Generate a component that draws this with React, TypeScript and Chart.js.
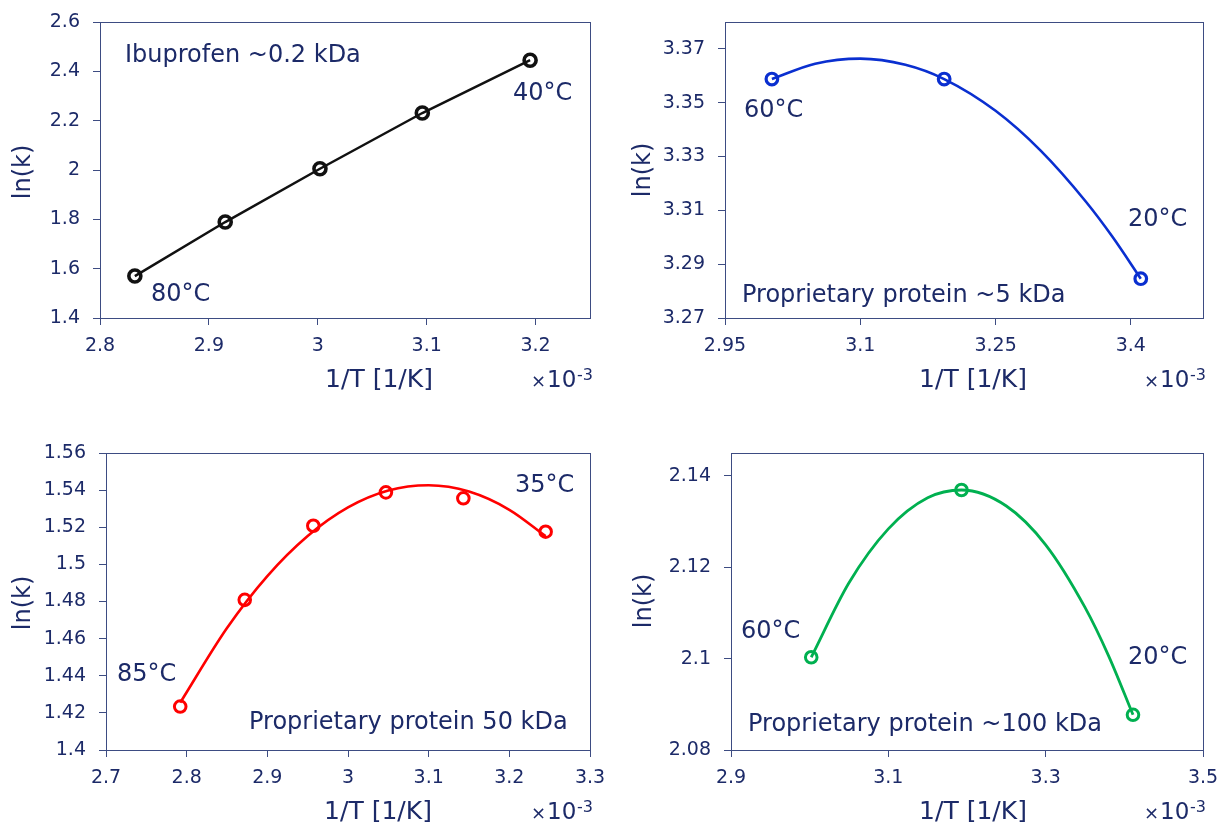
import React, { useEffect, useRef } from 'react';
import { Chart, registerables } from 'chart.js';

Chart.register(...registerables);

const FONT = "'DejaVu Sans', Verdana, sans-serif";
const TEXT_COLOR = '#1c2a68';
const FRAME_COLOR = '#3d4c82';

// ---------- Panel A: Ibuprofen ~0.2 kDa (1/T in 1e-3 1/K) ----------
const IBU_X = [2.832, 2.915, 3.002, 3.096, 3.195];
const IBU_LNK = [1.57, 1.789, 2.005, 2.231, 2.445];
const IBU_X_TICKS = ['2.8', '2.9', '3', '3.1', '3.2'];
const IBU_Y_TICKS = ['1.4', '1.6', '1.8', '2', '2.2', '2.4', '2.6'];

// ---------- Panel B: Proprietary protein ~5 kDa ----------
const P5_X = [3.002, 3.193, 3.411];
const P5_LNK = [3.3588, 3.3588, 3.2846];
const P5_FIT_X = [3.002, 3.05, 3.1, 3.15, 3.193, 3.25, 3.3, 3.35, 3.38, 3.411];
const P5_FIT_LNK = [3.3588, 3.3645, 3.3664, 3.3641, 3.3588, 3.347, 3.3322, 3.3133, 3.3, 3.2846];
const P5_X_TICKS = ['2.95', '3.1', '3.25', '3.4'];
const P5_Y_TICKS = ['3.27', '3.29', '3.31', '3.33', '3.35', '3.37'];

// ---------- Panel C: Proprietary protein 50 kDa ----------
const P50_X = [2.792, 2.872, 2.957, 3.047, 3.143, 3.245];
const P50_LNK = [1.4234, 1.4809, 1.5208, 1.5388, 1.5356, 1.5176];
const P50_FIT_X = [2.792, 2.85, 2.9, 2.95, 3.0, 3.05, 3.1, 3.15, 3.2, 3.245];
const P50_FIT_LNK = [1.4255, 1.4657, 1.4937, 1.5153, 1.5307, 1.5398, 1.5426, 1.5392, 1.5294, 1.5152];
const P50_X_TICKS = ['2.7', '2.8', '2.9', '3', '3.1', '3.2', '3.3'];
const P50_Y_TICKS = ['1.4', '1.42', '1.44', '1.46', '1.48', '1.5', '1.52', '1.54', '1.56'];

// ---------- Panel D: Proprietary protein ~100 kDa ----------
const P100_X = [3.002, 3.193, 3.411];
const P100_LNK = [2.1003, 2.1369, 2.0877];
const P100_FIT_X = [3.002, 3.05, 3.1, 3.15, 3.193, 3.25, 3.3, 3.35, 3.38, 3.411];
const P100_FIT_LNK = [2.1003, 2.1166, 2.1284, 2.1352, 2.1369, 2.1334, 2.1249, 2.1112, 2.1006, 2.0877];
const P100_X_TICKS = ['2.9', '3.1', '3.3', '3.5'];
const P100_Y_TICKS = ['2.08', '2.1', '2.12', '2.14'];

const X_TITLE = '1/T [1/K]';
const Y_TITLE = 'ln(k)';

const Y_AXIS_W = 70;
const X_AXIS_H = 40;

type Note = { text: string; x: number; y: number };
type Panel = {
  canvas: { left: number; top: number; width: number; height: number };
  box: { l: number; t: number; r: number; b: number };
  xr: [number, number];
  yr: [number, number];
  xTicks: string[];
  yTicks: string[];
  px: number[];
  py: number[];
  fx: number[] | null;
  fy: number[] | null;
  connect: boolean;
  color: string;
  lineWidth: number;
  pointRadius: number;
  pointBorder: number;
  notes: Note[];
  yTitle: { x: number; y: number };
  xTitleX: number;
};

const PANELS: Panel[] = [
  {
    canvas: { left: 0, top: 0, width: 610, height: 412 },
    box: { l: 100, t: 22, r: 590, b: 318 },
    xr: [2.8, 3.25], yr: [1.4, 2.6],
    xTicks: IBU_X_TICKS, yTicks: IBU_Y_TICKS,
    px: IBU_X, py: IBU_LNK, fx: null, fy: null, connect: true,
    color: '#111111', lineWidth: 2.5, pointRadius: 6, pointBorder: 3.6,
    notes: [
      { text: 'Ibuprofen ~0.2 kDa', x: 125, y: 53 },
      { text: '40°C', x: 513, y: 91 },
      { text: '80°C', x: 151, y: 292 },
    ],
    yTitle: { x: 24, y: 172 }, xTitleX: 379,
  },
  {
    canvas: { left: 610, top: 0, width: 610, height: 412 },
    box: { l: 725, t: 22, r: 1203, b: 318 },
    xr: [2.95, 3.48], yr: [3.27, 3.38],
    xTicks: P5_X_TICKS, yTicks: P5_Y_TICKS,
    px: P5_X, py: P5_LNK, fx: P5_FIT_X, fy: P5_FIT_LNK, connect: false,
    color: '#0a2fd0', lineWidth: 2.6, pointRadius: 5.8, pointBorder: 3.2,
    notes: [
      { text: '60°C', x: 744, y: 108 },
      { text: '20°C', x: 1128, y: 217 },
      { text: 'Proprietary protein ~5 kDa', x: 742, y: 293 },
    ],
    yTitle: { x: 644, y: 170 }, xTitleX: 973,
  },
  {
    canvas: { left: 0, top: 412, width: 610, height: 413 },
    box: { l: 106, t: 453, r: 590, b: 750 },
    xr: [2.7, 3.3], yr: [1.4, 1.56],
    xTicks: P50_X_TICKS, yTicks: P50_Y_TICKS,
    px: P50_X, py: P50_LNK, fx: P50_FIT_X, fy: P50_FIT_LNK, connect: false,
    color: '#ff0000', lineWidth: 2.6, pointRadius: 5.8, pointBorder: 3,
    notes: [
      { text: '85°C', x: 117, y: 672 },
      { text: '35°C', x: 515, y: 483 },
      { text: 'Proprietary protein 50 kDa', x: 249, y: 720 },
    ],
    yTitle: { x: 24, y: 603 }, xTitleX: 378,
  },
  {
    canvas: { left: 610, top: 412, width: 610, height: 413 },
    box: { l: 731, t: 453, r: 1203, b: 750 },
    xr: [2.9, 3.5], yr: [2.08, 2.145],
    xTicks: P100_X_TICKS, yTicks: P100_Y_TICKS,
    px: P100_X, py: P100_LNK, fx: P100_FIT_X, fy: P100_FIT_LNK, connect: false,
    color: '#00b050', lineWidth: 2.8, pointRadius: 5.8, pointBorder: 3,
    notes: [
      { text: '60°C', x: 741, y: 629 },
      { text: '20°C', x: 1128, y: 655 },
      { text: 'Proprietary protein ~100 kDa', x: 748, y: 722 },
    ],
    yTitle: { x: 645, y: 601 }, xTitleX: 973,
  },
];

function buildConfig(p: Panel): any {
  const c = p.canvas;
  const padding = {
    left: p.box.l - c.left - Y_AXIS_W,
    top: p.box.t - c.top,
    right: c.left + c.width - p.box.r,
    bottom: c.top + c.height - p.box.b - X_AXIS_H,
  };
  const datasets: any[] = [
    {
      data: p.px.map((x, i) => ({ x, y: p.py[i] })),
      showLine: p.connect,
      borderColor: p.color,
      borderWidth: p.lineWidth,
      pointRadius: p.pointRadius,
      pointBorderWidth: p.pointBorder,
      pointBorderColor: p.color,
      pointBackgroundColor: 'rgba(0,0,0,0)',
      pointStyle: 'circle',
      fill: false,
    },
  ];
  if (p.fx && p.fy) {
    const fy = p.fy;
    datasets.push({
      data: p.fx.map((x, i) => ({ x, y: fy[i] })),
      showLine: true,
      borderColor: p.color,
      borderWidth: p.lineWidth,
      pointRadius: 0,
      cubicInterpolationMode: 'monotone',
      fill: false,
    });
  }
  const grid = {
    display: true,
    drawOnChartArea: false,
    drawTicks: true,
    tickLength: 7,
    color: FRAME_COLOR,
    lineWidth: 1,
  };
  const tickFont = { family: FONT, size: 19 };

  const decor = {
    id: 'decor',
    beforeDatasetsDraw(chart: any) {
      const ctx = chart.ctx;
      const a = chart.chartArea;
      ctx.save();
      ctx.strokeStyle = FRAME_COLOR;
      ctx.lineWidth = 1;
      ctx.strokeRect(
        Math.round(a.left) + 0.5,
        Math.round(a.top) + 0.5,
        Math.round(a.right - a.left),
        Math.round(a.bottom - a.top)
      );
      ctx.restore();
    },
    afterDraw(chart: any) {
      const ctx = chart.ctx;
      const ox = c.left;
      const oy = c.top;
      ctx.save();
      ctx.fillStyle = TEXT_COLOR;
      ctx.textBaseline = 'alphabetic';
      ctx.textAlign = 'left';
      ctx.font = `24px ${FONT}`;
      for (const n of p.notes) {
        ctx.fillText(n.text, n.x - ox, n.y - oy + 8.7);
      }
      // x title
      ctx.font = `25px ${FONT}`;
      ctx.textAlign = 'center';
      const base = p.box.b + 69 - oy;
      ctx.fillText(X_TITLE, p.xTitleX - ox, base);
      // x10^-3
      ctx.textAlign = 'left';
      const ax = p.box.r - 59 - ox;
      ctx.font = `18px ${FONT}`;
      ctx.fillText('×', ax, base);
      ctx.font = `23px ${FONT}`;
      ctx.fillText('10', ax + 16, base);
      ctx.font = `16px ${FONT}`;
      ctx.fillText('-3', ax + 46, base - 7);
      // y title
      ctx.save();
      ctx.translate(p.yTitle.x - ox, p.yTitle.y - oy);
      ctx.rotate(-Math.PI / 2);
      ctx.font = `24px ${FONT}`;
      ctx.textAlign = 'center';
      ctx.textBaseline = 'middle';
      ctx.fillText(Y_TITLE, 0, 0);
      ctx.restore();
      ctx.restore();
    },
  };

  return {
    type: 'scatter',
    data: { datasets },
    options: {
      animation: false,
      responsive: false,
      maintainAspectRatio: false,
      devicePixelRatio: 1,
      layout: { padding },
      plugins: { legend: { display: false }, tooltip: { enabled: false } },
      scales: {
        x: {
          type: 'linear',
          min: p.xr[0],
          max: p.xr[1],
          afterBuildTicks: (s: any) => {
            s.ticks = p.xTicks.map((t) => ({ value: parseFloat(t) }));
          },
          afterFit: (s: any) => {
            s.height = X_AXIS_H;
            s.paddingLeft = 0;
            s.paddingRight = 0;
          },
          grid,
          border: { display: true, color: FRAME_COLOR, width: 1 },
          ticks: {
            color: TEXT_COLOR,
            font: tickFont,
            padding: 10,
            autoSkip: false,
            maxRotation: 0,
            minRotation: 0,
            callback: (_v: any, i: number) => p.xTicks[i],
          },
        },
        y: {
          type: 'linear',
          min: p.yr[0],
          max: p.yr[1],
          afterBuildTicks: (s: any) => {
            s.ticks = p.yTicks.map((t) => ({ value: parseFloat(t) }));
          },
          afterFit: (s: any) => {
            s.width = Y_AXIS_W;
            s.paddingTop = 0;
            s.paddingBottom = 0;
          },
          grid,
          border: { display: true, color: FRAME_COLOR, width: 1 },
          ticks: {
            color: TEXT_COLOR,
            font: tickFont,
            padding: 13,
            autoSkip: false,
            callback: (_v: any, i: number) => p.yTicks[i],
          },
        },
      },
    },
    plugins: [decor],
  };
}

function PanelChart({ p }: { p: Panel }) {
  const ref = useRef<HTMLCanvasElement>(null);
  useEffect(() => {
    const canvas = ref.current;
    if (!canvas) return;
    const chart = new Chart(canvas, buildConfig(p));
    return () => chart.destroy();
  }, [p]);
  return (
    <canvas
      ref={ref}
      width={p.canvas.width}
      height={p.canvas.height}
      style={{
        position: 'absolute',
        left: p.canvas.left,
        top: p.canvas.top,
        width: p.canvas.width,
        height: p.canvas.height,
      }}
    />
  );
}

export default function App() {
  return (
    <div
      style={{
        position: 'fixed',
        left: 0,
        top: 0,
        width: 1220,
        height: 825,
        background: '#ffffff',
        overflow: 'hidden',
      }}
    >
      {PANELS.map((p, i) => (
        <PanelChart key={i} p={p} />
      ))}
    </div>
  );
}
